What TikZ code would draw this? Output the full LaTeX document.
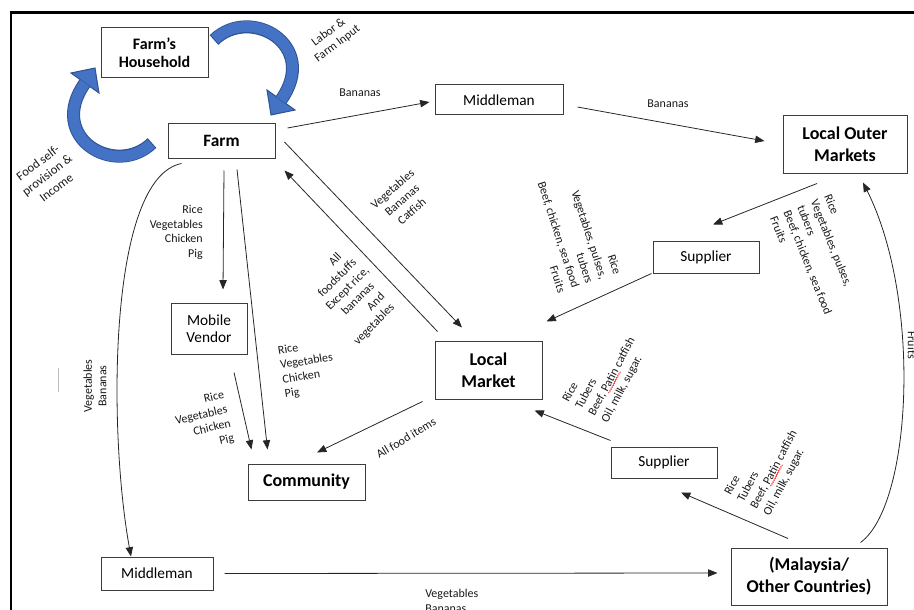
\documentclass[tikz,border=0pt]{standalone}
\usepackage{fontspec}
\setmainfont{Carlito}
\usetikzlibrary{arrows.meta,calc,decorations.pathmorphing}
\newdimen\pxu \pxu=0.75pt
\definecolor{ablue}{RGB}{68,114,196}
\definecolor{ablued}{RGB}{47,82,143}
\definecolor{boxc}{RGB}{60,60,60}
\newcommand\patinword{\tikz[baseline=(pp.base)]{\node[inner sep=0pt,outer sep=0pt](pp){Patin};\draw[red,line width=0.35pt,decorate,decoration={snake,amplitude=0.45pt,segment length=1.8pt}]([yshift=-1.2pt]pp.base west)--([yshift=-1.2pt]pp.base east);}}
\newcommand\bluecurve{%
  \draw[ablued, line width=13\pxu] (214,40) .. controls (250,5) and (320,45) .. (281,100);
  \filldraw[fill=ablue, draw=ablued, line width=0.75pt] (295,110) -- (271,115) -- (267,90) -- cycle;
  \draw[ablue, line width=11\pxu, shorten <=1\pxu] (214,40) .. controls (250,5) and (320,45) .. (281,100);
}
\begin{document}
\begin{tikzpicture}[x=0.75pt,y=-0.75pt,
  box/.style={draw=boxc,line width=0.75pt,inner sep=0pt,align=center,font=\fontsize{11.5}{13.5}\selectfont},
  bbox/.style={box,font=\fontsize{13.5}{16.5}\selectfont\bfseries},
  lab/.style={inner sep=0pt,font=\fontsize{9}{11}\selectfont,text=black!90},
  arr/.style={draw=black!85,line width=0.6pt,-{Triangle[length=7pt,width=5.5pt]}},
  ]
\useasboundingbox (0,0) rectangle (914,610);
% frame
\draw[line width=2.2pt] (11,612) -- (11,12.5) -- (916,12.5);

% boxes
\node[bbox, minimum width=107\pxu, minimum height=50\pxu, font=\fontsize{12}{13.5}\selectfont\bfseries] (hh) at (154.5,53) {Farm’s\\Household};
\node[bbox, minimum width=107\pxu, minimum height=35\pxu, font=\fontsize{13}{15}\selectfont\bfseries] (farm) at (221.5,140.5) {Farm};
\node[box, minimum width=128\pxu, minimum height=30\pxu] (mid1) at (499,100) {Middleman};
\node[bbox, minimum width=124\pxu, minimum height=57\pxu] (lom) at (845,144.5) {Local Outer\\Markets};
\node[box, minimum width=106\pxu, minimum height=32\pxu] (sup1) at (706,257) {Supplier};
\node[bbox, minimum width=107\pxu, minimum height=58\pxu] (lm) at (488.5,370) {Local\\Market};
\node[box, minimum width=106\pxu, minimum height=31\pxu] (sup2) at (664,462.5) {Supplier};
\node[box, minimum width=76\pxu, minimum height=51\pxu, font=\fontsize{11.5}{12.5}\selectfont] (mv) at (209,328.5) {Mobile\\Vendor};
\node[bbox, minimum width=117\pxu, minimum height=36\pxu] (com) at (306.5,482) {Community};
\node[box, minimum width=112\pxu, minimum height=33\pxu] (mid2) at (157,573.5) {Middleman};
\node[bbox, minimum width=156\pxu, minimum height=57\pxu] (mal) at (809,576.5) {(Malaysia/\\Other Countries)};

% blue cycle arrows
\bluecurve
\begin{scope}[rotate around={180:(183,91.5)}]
\bluecurve
\end{scope}

% connectors
\draw[arr] ($(farm.east)+(12,-12.5)$) -- ($(mid1.west)+(-5,2)$);
\draw[arr] ($(mid1.east)+(14,7)$) -- ($(lom.west)+(-18,-3.5)$);
\draw[arr] ($(farm.east)+(9,1.5)$) -- ($(lm.north)+(-26.5,-13)$);
\draw[arr] ($(lm.north west)+(3,-9)$) -- ($(farm.south east)+(9,12)$);
\draw[arr] ($(sup1.south west)+(-1,0)$) -- ($(lm.north east)+(4,-19)$);
\draw[arr] ($(lom.south)+(-28,10)$) -- ($(sup1.north)+(7,-16)$);
\draw[arr] ($(farm.south)+(2.5,12)$) -- ($(mv.north)+(14,-13)$);
\draw[arr] ($(farm.south)+(15.5,11)$) -- ($(com.north west)+(20,-14)$);
\draw[arr] ($(mv.south)+(25,18)$) -- ($(com.north west)+(4,-14)$);
\draw[arr] ($(lm.south west)+(-12,2)$) -- ($(com.north)+(10.5,-11)$);
\draw[arr] ($(sup2.north west)+(0,-6)$) -- ($(lm.south east)+(-8,11)$);
\draw[arr] ($(mal.north)+(-21,-9)$) -- ($(sup2.south)+(17,14)$);
\draw[arr] ($(mal.north east)+(-27,-5)$) .. controls (912,505) and (922,300) .. ($(lom.south)+(18,9)$);
\draw[arr] ($(farm.south west)+(14,5)$) .. controls (108,178) and (108,430) .. ($(mid2.north)+(-26,0)$);
\draw[arr] ($(mid2.east)+(11,0)$) -- ($(mal.west)+(-13,-3.5)$);

% small grey mark
\draw[black!25, line width=0.5pt] (58,368) -- (58,392);

% labels
\node[lab] (lb1) at (360,93) {Bananas};
\node[lab] (lb2) at (668,104) {Bananas};
\node[lab, align=center, rotate=41] (lb3) at (402,200) {Vegetables\\Bananas\\Catfish};
\node[lab, align=center, rotate=45] (lb4) at (353,294) {\hspace*{18pt}All\\foodstuffs\hspace*{4pt}\\Except rice,\hspace*{16pt}\\bananas\hspace*{3pt}\\\hspace*{16pt}And\\vegetables\hspace*{10pt}};
\node[lab, align=right, rotate=-72, anchor=north east] (lb5) at (622,273) {Rice\\Vegetables, pulses,\\tubers\\Beef, chicken, sea food\\Fruits};
\node[lab, align=left, rotate=-68, anchor=north west] (lb6) at (832,193) {Rice\\Vegetables, pulses,\\tubers\\Beef, chicken, sea food\\Fruits};
\node[lab, align=right, anchor=north east] (lb7) at (203,205) {Rice\\Vegetables\\Chicken\\Pig};
\node[lab, align=left, rotate=9, anchor=north west] (lb8) at (277,346) {Rice\\Vegetables\\Chicken\\Pig};
\node[lab, align=right, rotate=13, anchor=north east] (lb9) at (223,390) {Rice\\Vegetables\\Chicken\\Pig};
\node[lab, rotate=31] (lb10) at (406,438) {All food items};
\node[lab, align=left, rotate=62, anchor=north west] (lb11) at (561,399) {Rice\\Tubers\\Beef, \patinword{} catfish\\Oil, milk, sugar.};
\node[lab, align=left, rotate=62, anchor=north west] (lb12) at (723,492) {Rice\\Tubers\\Beef, \patinword{} catfish\\Oil, milk, sugar.};
\node[lab, rotate=-90] (lb13) at (912,345) {Fruits};
\node[lab, align=center, rotate=90] (lb14) at (95,386) {Vegetables\\Bananas};
\node[lab, align=left, anchor=north west] (lb15) at (425,589) {Vegetables\\Bananas};
\node[lab, align=center, rotate=37] (lb16) at (333,38) {Labor \&\\Farm Input};
\node[lab, align=center, rotate=37, font=\fontsize{9.5}{11.5}\selectfont] (lb17) at (47,175) {Food self-\\provision \&\\Income};
\end{tikzpicture}
\end{document}
